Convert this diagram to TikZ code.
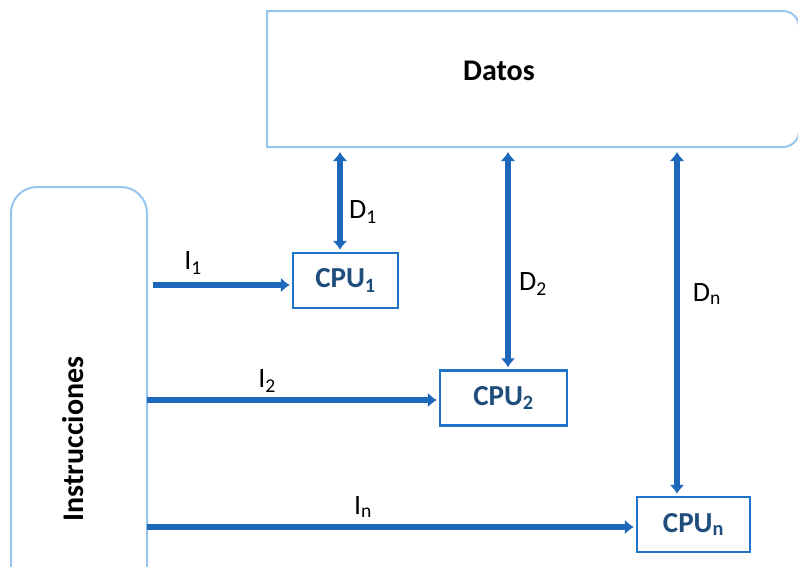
\documentclass[tikz,border=0pt]{standalone}
\usepackage{fontspec}
\setmainfont{Carlito}
\usetikzlibrary{arrows.meta}
\definecolor{boxline}{RGB}{150,198,240}
\definecolor{cpuline}{RGB}{31,115,200}
\definecolor{cputext}{RGB}{31,78,125}
\definecolor{flow}{RGB}{30,104,188}
\tikzset{
	cpu/.style={draw=cpuline,line width=2.4pt,minimum width=#1,minimum height=55pt,
		font=\fontsize{29}{32}\selectfont\bfseries,text=cputext,inner sep=0pt},
	flowarrow/.style={draw=flow,line width=6pt,-{Latex[length=9pt,width=15pt]},shorten >=2pt},
	dataarrow/.style={draw=flow,line width=6pt,{Latex[length=9pt,width=15pt]}-{Latex[length=9pt,width=15pt]},shorten >=2pt},
	lbl/.style={font=\fontsize{28}{30}\selectfont,inner sep=0pt}
}
\begin{document}
\begin{tikzpicture}[x=1pt,y=-1pt]
	\useasboundingbox (0,0) rectangle (798,566);

	% Memories
	\draw[boxline,line width=2pt] (267,11) [rounded corners=16pt] -- (799,11) -- (799,147) [rounded corners=0pt] -- (267,147) -- cycle;
	\node[font=\fontsize{30}{32}\selectfont\bfseries,inner sep=0pt] (datos) at (499,71) {Datos};
	\draw[boxline,line width=2pt] (11,580) [rounded corners=26pt] -- (11,187) -- (147,187) [rounded corners=0pt] -- (147,580);
	\node[rotate=90,font=\fontsize{30}{32}\selectfont\bfseries,inner sep=0pt] (instr) at (73,439) {Instrucciones};

	% Processors
	\node[cpu=105pt] (cpu1) at (345.5,280.5) {CPU\textsubscript{1}};
	\node[cpu=127pt] (cpu2) at (503.5,398) {CPU\textsubscript{2}};
	\node[cpu=113pt] (cpun) at (693.5,524.5) {CPU\textsubscript{n}};

	% Arrow ends
	\coordinate (i1) at (153,285);
	\coordinate (i2) at (147,400);
	\coordinate (in) at (147,527);
	\coordinate (d1) at (340,152);
	\coordinate (d2) at (508,152);
	\coordinate (dn) at (677,152);

	% Instruction streams
	\draw[flowarrow] (i1) -- (cpu1.west |- i1);
	\draw[flowarrow] (i2) -- (cpu2.west |- i2);
	\draw[flowarrow] (in) -- (cpun.west |- in);

	% Data streams
	\draw[dataarrow] (d1) -- (cpu1.north -| d1);
	\draw[dataarrow] (d2) -- (cpu2.north -| d2);
	\draw[dataarrow] (dn) -- (cpun.north -| dn);

	% Labels
	\node[lbl] (li1) at (193,263) {I\textsubscript{1}};
	\node[lbl] (li2) at (267,381) {I\textsubscript{2}};
	\node[lbl] (lin) at (363,507) {I\textsubscript{n}};
	\node[lbl] (ld1) at (363,212) {D\textsubscript{1}};
	\node[lbl] (ld2) at (533,284) {D\textsubscript{2}};
	\node[lbl] (ldn) at (707,294) {D\textsubscript{n}};

\end{tikzpicture}
\end{document}
